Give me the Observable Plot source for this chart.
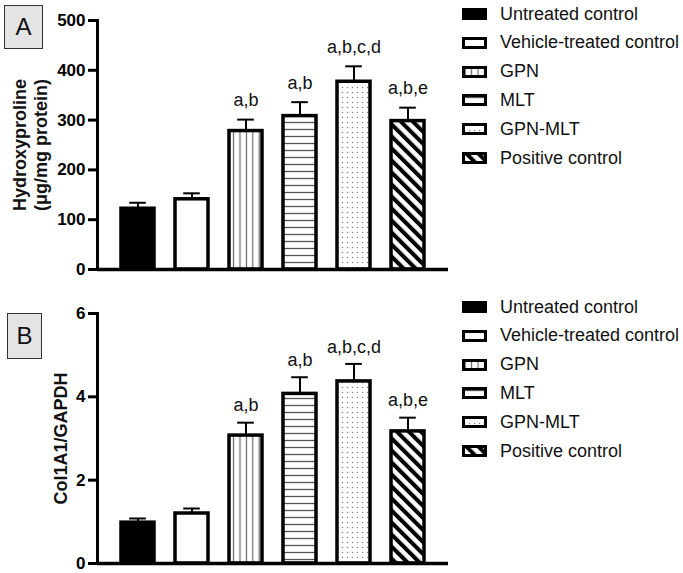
<!DOCTYPE html>
<html>
<head>
<meta charset="utf-8">
<script src="https://cdn.jsdelivr.net/npm/d3@7"></script>
<script src="https://cdn.jsdelivr.net/npm/@observablehq/plot@0.6"></script>
<style>
  body { margin: 0; background: #fff; font-family: "Liberation Sans", Arial, sans-serif; }
  #root { position: relative; width: 683px; height: 573px; overflow: hidden; background: #fff; }
  .panel { position: absolute; left: 0; }
  .tag { position: absolute; background: #e4e4e4; border: 1.5px solid #333; box-sizing: border-box;
         font-size: 24px; display: flex; align-items: center; justify-content: center; color: #111; }
  .legend { position: absolute; left: 462px; width: 221px; }
  .row { position: absolute; left: 0; height: 20px; display: flex; align-items: center;
         font-size: 18px; white-space: nowrap; color: #111; }
  .row svg { flex: none; margin-right: 13px; }
</style>
</head>
<body>
<svg width="0" height="0" style="position:absolute">
  <defs>
    <pattern id="pGPN" patternUnits="userSpaceOnUse" width="6.4" height="10">
      <rect width="6.4" height="10" fill="#fff"/>
      <line x1="3.2" y1="0" x2="3.2" y2="10" stroke="#666" stroke-width="1.2"/>
    </pattern>
    <pattern id="pMLT" patternUnits="userSpaceOnUse" width="10" height="7">
      <rect width="10" height="7" fill="#fff"/>
      <line x1="0" y1="3.5" x2="10" y2="3.5" stroke="#555" stroke-width="1.3"/>
    </pattern>
    <pattern id="pDots" patternUnits="userSpaceOnUse" width="5" height="5">
      <rect width="5" height="5" fill="#fff"/>
      <circle cx="2.5" cy="2.5" r="0.75" fill="#808080"/>
    </pattern>
    <pattern id="pDiag" patternUnits="userSpaceOnUse" width="8.5" height="10" patternTransform="rotate(-45)">
      <rect width="8.5" height="10" fill="#fff"/>
      <rect width="4" height="10" fill="#000"/>
    </pattern>
  </defs>
</svg>
<div id="root"></div>
<script>
// ---- data ----
const groups = ["Untreated control", "Vehicle-treated control", "GPN", "MLT", "GPN-MLT", "Positive control"];
const fills = ["#000", "#fff", "url(#pGPN)", "url(#pMLT)", "url(#pDots)", "url(#pDiag)"];

const hypMean = [122, 141, 278, 308, 377, 298];
const hypSD = [12, 12, 23, 28, 31, 27];
const hypLabels = ["", "", "a,b", "a,b", "a,b,c,d", "a,b,e"];
const hypTicks = [0, 100, 200, 300, 400, 500];

const colMean = [0.98, 1.2, 3.07, 4.07, 4.37, 3.17];
const colSD = [0.1, 0.12, 0.31, 0.4, 0.42, 0.33];
const colLabels = ["", "", "a,b", "a,b", "a,b,c,d", "a,b,e"];
const colTicks = [0, 2, 4, 6];

const root = document.getElementById("root");

function panel({means, sds, labels, ticks, domain, title, titleDx, height, marginTop, marginBottom, labelDy}) {
  const data = groups.map((g, i) => ({group: g, mean: means[i], sd: sds[i], label: labels[i]}));
  return Plot.plot({
    width: 460,
    height,
    marginLeft: 97,
    marginRight: 12,
    marginTop,
    marginBottom,
    style: {fontFamily: "'Liberation Sans', Arial, sans-serif", fontSize: "17px", color: "#000", background: "transparent", overflow: "visible"},
    x: {domain: groups, padding: 0.39, axis: null},
    y: {domain, label: null},
    color: {domain: groups, range: fills},
    marks: [
      Plot.ruleX(data, {x: "group", y1: "mean", y2: d => d.mean + d.sd, strokeWidth: 2}),
      Plot.tickY(data, {x: "group", y: d => d.mean + d.sd, strokeWidth: 2, insetLeft: 8.2, insetRight: 8.2}),
      Plot.barY(data, {x: "group", y: "mean", fill: "group", stroke: "#000", strokeWidth: 3.5}),
      Plot.text(data, {x: "group", y: d => d.mean + d.sd, text: "label", dy: labelDy, fontSize: 18, lineAnchor: "middle", fill: "#111"}),
      Plot.axisY({ticks, tickSize: 9, tickPadding: 3, strokeWidth: 3, fontWeight: "bold", fontSize: 17, label: null, tickFormat: d => String(d)}),
      Plot.frame({anchor: "left", strokeWidth: 3}),
      Plot.ruleY([0], {strokeWidth: 3.5}),
      Plot.text([title], {frameAnchor: "left", rotate: -90, dx: titleDx, fontWeight: "bold", fontSize: 18, textAnchor: "middle", lineAnchor: "middle", lineHeight: 1.17, fill: "#111"})
    ]
  });
}

function legend(top) {
  const div = document.createElement("div");
  div.className = "legend";
  div.style.top = top + "px";
  groups.forEach((g, i) => {
    const row = document.createElement("div");
    row.className = "row";
    row.style.top = (i * 28.8 - 10) + "px";
    row.innerHTML = `<svg width="25" height="12"><rect x="1.5" y="1.5" width="22" height="9" fill="${fills[i]}" stroke="#000" stroke-width="3"/></svg><span>${g}</span>`;
    div.appendChild(row);
  });
  return div;
}

function tag(text, left, top, w, h) {
  const d = document.createElement("div");
  d.className = "tag";
  Object.assign(d.style, {left: left + "px", top: top + "px", width: w + "px", height: h + "px"});
  d.textContent = text;
  return d;
}

const a = panel({means: hypMean, sds: hypSD, labels: hypLabels, ticks: hypTicks, domain: [0, 500],
  title: "Hydroxyproline\n(μg/mg protein)", titleDx: -68, height: 285, marginTop: 20, marginBottom: 16, labelDy: -19});
a.classList.add("panel"); a.style.top = "0px";
root.appendChild(a);

const b = panel({means: colMean, sds: colSD, labels: colLabels, ticks: colTicks, domain: [0, 6],
  title: "Col1A1/GAPDH", titleDx: -37.5, height: 285, marginTop: 23, marginBottom: 12, labelDy: -17});
b.classList.add("panel"); b.style.top = "290px";
root.appendChild(b);

root.appendChild(legend(14));
root.appendChild(legend(307));
root.appendChild(tag("A", 4, 5, 39, 44));
root.appendChild(tag("B", 7, 313, 35, 46));
</script>
</body>
</html>
